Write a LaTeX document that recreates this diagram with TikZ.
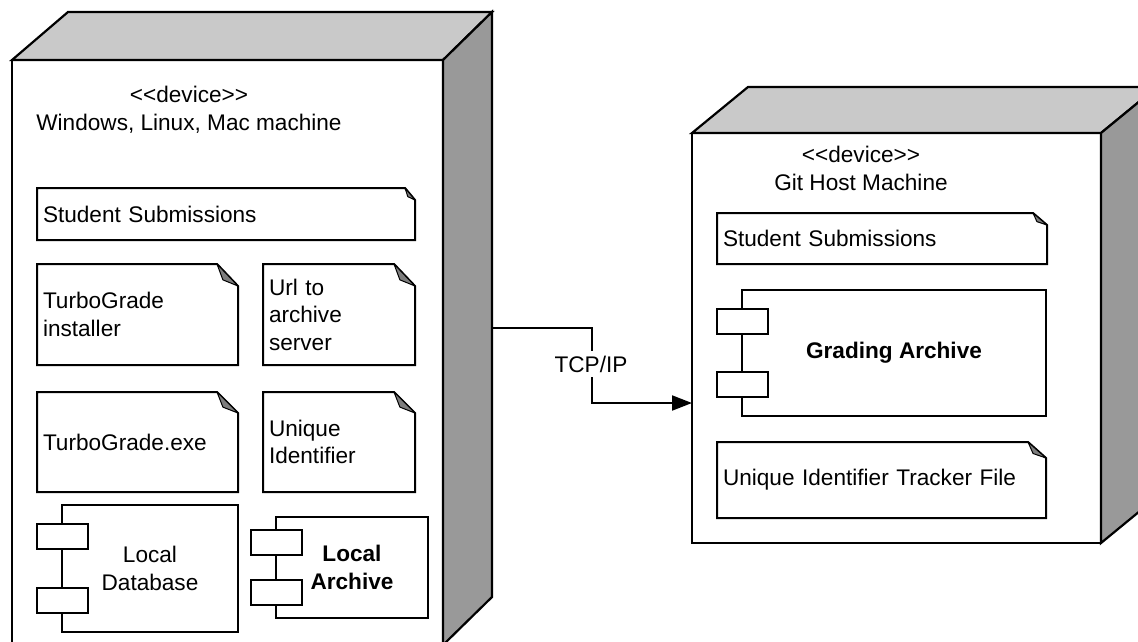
\documentclass[tikz,border=0pt]{standalone}
\usepackage{fontspec}
\setmainfont{Liberation Sans}
\usetikzlibrary{calc,arrows.meta}

\definecolor{topgray}{RGB}{201,201,201}
\definecolor{sidegray}{RGB}{153,153,153}
\definecolor{foldgray}{RGB}{125,125,125}
\newcommand\diafont{\fontsize{22.6}{27.5}\selectfont}

\tikzset{
  devfront/.style={draw=black, line width=2.2pt, fill=white, rectangle, outer sep=0pt, inner sep=0pt},
  devtop/.style={draw=black, line width=2.2pt, fill=topgray, line join=miter},
  devside/.style={draw=black, line width=2.2pt, fill=sidegray, line join=miter},
  devtitle/.style={align=center, font=\diafont, inner sep=0pt},
  art/.style={rectangle, draw=none, outer sep=0pt, inner xsep=6pt, inner ysep=0pt,
              align=left, font=\diafont, anchor=north west},
  artline/.style={draw=black, line width=2pt, line join=miter},
  fold/.style={fill=foldgray, draw=black, line width=1pt, line join=round},
  comp/.style={rectangle, draw=black, line width=2pt, fill=white, outer sep=0pt,
               align=center, font=\diafont, anchor=north west},
  port/.style={rectangle, draw=black, line width=2pt, fill=white, outer sep=0pt,
               minimum width=51pt, minimum height=25pt, inner sep=0pt},
  conn/.style={draw=black, line width=2pt, -{Triangle[length=20pt,width=15pt]}},
  lbl/.style={fill=white, font=\diafont, inner xsep=2pt, inner ysep=5pt},
}

% artifact outline with a folded top-right corner: node, fold width, fold height
\newcommand\dogear[3]{%
  \draw[artline] (#1.north west) -- ([xshift=-#2pt]#1.north east)
    -- ([yshift=-#3pt]#1.north east) -- (#1.south east) -- (#1.south west) -- cycle;
  \filldraw[fold] ([xshift=-#2pt]#1.north east) -- ([yshift=-#3pt]#1.north east)
    -- ([xshift=-0.72*#2pt, yshift=-0.72*#3pt]#1.north east) -- cycle;
}
% component box with its two interface tabs on the left edge
\newcommand\tabs[1]{%
  \node[port] (#1-t1) at ($(#1.north west)!0.25!(#1.south west)$) {};
  \node[port] (#1-t2) at ($(#1.north west)!0.75!(#1.south west)$) {};
}

\begin{document}
\begin{tikzpicture}[x=1pt, y=-1pt]
\useasboundingbox (0,0) rectangle (1138,641);
\clip (0,0) rectangle (1138,641);

% ---------- client device ----------
\node[devfront, minimum width=431pt, minimum height=585pt, anchor=north west] (ldev) at (12,60) {};
\draw[devtop] (ldev.north west) -- ++(56,-48) -- ($(ldev.north east)+(49,-48)$) -- (ldev.north east) -- cycle;
\draw[devside] (ldev.north east) -- ++(49,-48) -- ($(ldev.south east)+(49,-48)$) -- (ldev.south east) -- cycle;
\node[devtitle] (ltitle) at (189,110) {<{}<device>{}>\\Windows, Linux, Mac machine};

\node[art, minimum width=378pt, minimum height=52pt, text width=366pt] (ss1) at (37,188) {Student Submissions};
\dogear{ss1}{10}{12}
\node[art, minimum width=201pt, minimum height=101pt, text width=189pt] (tgi) at (37,264) {TurboGrade\\installer};
\dogear{tgi}{21}{22}
\node[art, minimum width=152pt, minimum height=101pt, text width=140pt] (url) at (263,264) {Url to\\archive\\server};
\dogear{url}{21}{22}
\node[art, minimum width=201pt, minimum height=100pt, text width=189pt] (tge) at (37,392) {TurboGrade.exe};
\dogear{tge}{21}{21}
\node[art, minimum width=152pt, minimum height=100pt, text width=140pt] (uid) at (263,392) {Unique\\Identifier};
\dogear{uid}{21}{21}

\node[comp, minimum width=176pt, minimum height=127pt] (ldb) at (62,505) {Local\\Database};
\tabs{ldb}
\node[comp, minimum width=152pt, minimum height=101pt, font=\diafont\bfseries] (lar) at (276,517) {Local\\Archive};
\tabs{lar}

% ---------- server device ----------
\node[devfront, minimum width=409pt, minimum height=410pt, anchor=north west] (rdev) at (692,133) {};
\draw[devtop] (rdev.north west) -- ++(56,-46) -- ($(rdev.north east)+(56,-46)$) -- (rdev.north east) -- cycle;
\draw[devside] (rdev.north east) -- ++(56,-46) -- ($(rdev.south east)+(56,-46)$) -- (rdev.south east) -- cycle;
\node[devtitle] (rtitle) at (861,168.5) {<{}<device>{}>\\Git Host Machine};

\node[art, minimum width=330pt, minimum height=51pt, text width=318pt] (ss2) at (717,213) {Student Submissions};
\dogear{ss2}{14}{12}
\node[comp, minimum width=304pt, minimum height=126pt, font=\diafont\bfseries] (gar) at (742,290) {Grading Archive};
\tabs{gar}
\node[art, minimum width=329pt, minimum height=76pt, text width=317pt] (uitf) at (717,442) {Unique Identifier Tracker File};
\dogear{uitf}{18}{16}

% ---------- communication path ----------
\coordinate (lport) at ($(ldev.north east)+(49,268)$);
\coordinate (rport) at ($(rdev.north west)+(0,270)$);
\draw[conn] (lport) -- ++(100,0) |- (rport);
\node[lbl] (tcp) at (591,364) {TCP/IP};
\end{tikzpicture}
\end{document}
